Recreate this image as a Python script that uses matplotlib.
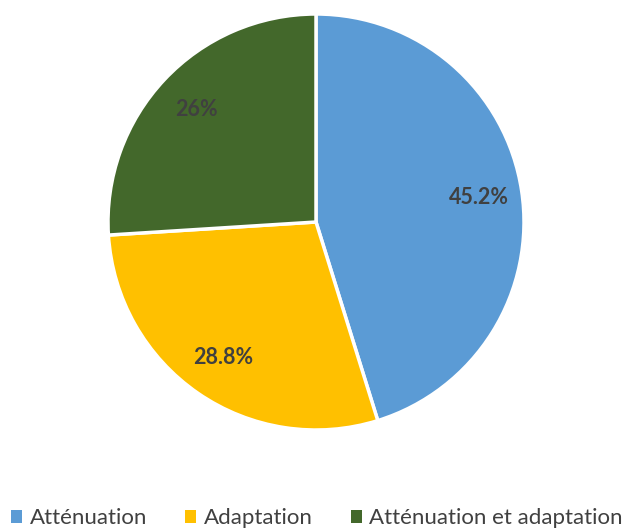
import matplotlib
matplotlib.use('Agg')
import matplotlib.pyplot as plt
from matplotlib.patches import Patch

categories = ['Atténuation', 'Adaptation', 'Atténuation et adaptation']
shares = [45.2, 28.8, 26.0]
colors = ['#5B9BD5', '#FFC000', '#43682B']

plt.rcParams['font.family'] = ['Lato', 'DejaVu Sans']

fig = plt.figure(figsize=(6.34, 5.30), dpi=100)
ax = fig.add_axes([108 / 634, 100 / 530, 416 / 634, 416 / 530])


def fmt(p):
    return '%d%%' % round(p) if abs(p - round(p)) < 0.05 else '%.1f%%' % p


wedges, texts, autotexts = ax.pie(
    shares, colors=colors, startangle=90, counterclock=False,
    autopct=fmt, pctdistance=0.79, radius=1,
    wedgeprops=dict(edgecolor='white', linewidth=2.5),
    textprops=dict(color='#404040', fontsize=15.5, fontweight='bold'))
ax.set_xlim(-1, 1)
ax.set_ylim(-1, 1)
ax.set_aspect('equal')

handles = [Patch(facecolor=c, edgecolor='none') for c in colors]
fig.legend(handles, categories, loc='lower center', bbox_to_anchor=(0.5, -0.022),
           ncol=3, frameon=False, fontsize=16, handlelength=0.5, handleheight=0.5,
           handletextpad=0.35, columnspacing=1.7, labelcolor='#404040',
           borderaxespad=0.2)

plt.savefig('out.png', dpi=100)
